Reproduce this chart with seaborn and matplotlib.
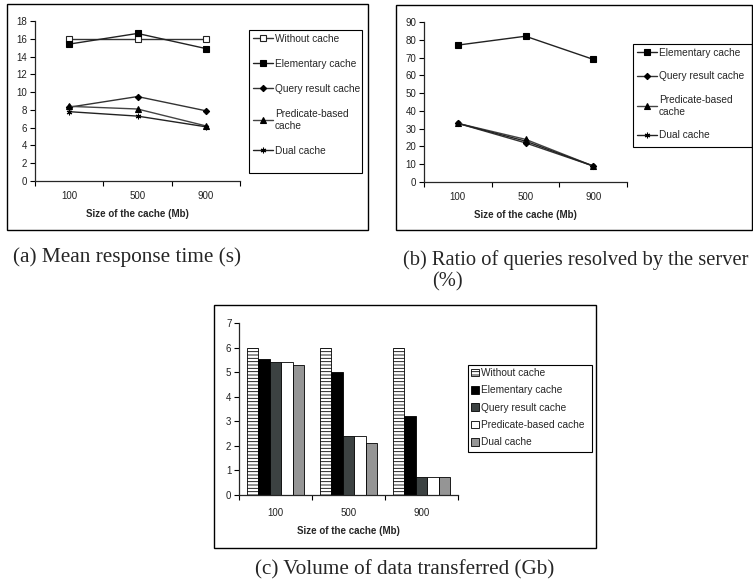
import matplotlib
matplotlib.use("Agg")
import matplotlib.pyplot as plt
import seaborn as sns
import pandas as pd
from matplotlib.patches import Rectangle, Patch
from matplotlib.ticker import FixedLocator, MultipleLocator

# ---------------- data ----------------
cache_sizes = ["100", "500", "900"]

# (a) Mean response time (s)
resp_without = [16.0, 16.0, 16.0]
resp_elementary = [15.4, 16.6, 14.9]
resp_query = [8.3, 9.5, 7.9]
resp_predicate = [8.4, 8.1, 6.2]
resp_dual = [7.8, 7.3, 6.1]

# (b) Ratio of queries resolved by the server (%)
ratio_elementary = [77, 82, 69]
ratio_query = [33, 22, 9]
ratio_predicate = [33, 24, 9]
ratio_dual = [33, 23, 9]

# (c) Volume of data transferred (Gb)
vol_without = [6.0, 6.0, 6.0]
vol_elementary = [5.55, 5.0, 3.2]
vol_query = [5.4, 2.4, 0.75]
vol_predicate = [5.4, 2.4, 0.75]
vol_dual = [5.3, 2.1, 0.75]

series_names = ["Without cache", "Elementary cache", "Query result cache",
                "Predicate-based cache", "Dual cache"]
legend_names_lines = ["Without cache", "Elementary cache", "Query result cache",
                      "Predicate-based\ncache", "Dual cache"]
x_label = "Size of the cache (Mb)"
captions = ["(a) Mean response time (s)",
            "(b) Ratio of queries resolved by the server",
            "(%)",
            "(c) Volume of data transferred (Gb)"]

# ---------------- style ----------------
sns.set_style("ticks")
plt.rcParams["font.family"] = ["Liberation Sans", "DejaVu Sans"]
plt.rcParams["hatch.linewidth"] = 0.6
plt.rcParams["axes.linewidth"] = 0.9

W, H = 753, 582
fig = plt.figure(figsize=(W / 100, H / 100), dpi=100)


def fx(px):
    return px / W


def fy(py):
    return 1 - py / H


def axes_px(x0, x1, ytop, ybot):
    return fig.add_axes([fx(x0), fy(ybot), (x1 - x0) / W, (ybot - ytop) / H])


def panel_box(x0, y0, x1, y1):
    fig.add_artist(Rectangle((fx(x0), fy(y1)), (x1 - x0) / W, (y1 - y0) / H,
                             transform=fig.transFigure, fill=False,
                             edgecolor="black", lw=1.0))


def style_axis(ax, ymax, ystep, xpad, labelpad):
    sns.despine(ax=ax)
    ax.set_xlim(-0.5, 2.5)
    ax.set_ylim(0, ymax)
    ax.yaxis.set_major_locator(MultipleLocator(ystep))
    ax.xaxis.set_major_locator(FixedLocator([0, 1, 2]))
    ax.set_xticklabels(cache_sizes)
    ax.xaxis.set_minor_locator(FixedLocator([-0.5, 0.5, 1.5, 2.5]))
    ax.tick_params(axis="x", which="major", length=0, pad=xpad,
                   labelsize=7, labelcolor="#222222")
    ax.tick_params(axis="x", which="minor", length=3.5, width=0.8,
                   direction="out", color="black")
    ax.tick_params(axis="y", length=3.5, width=0.8, pad=2,
                   labelsize=7, labelcolor="#222222", color="black")
    ax.set_xlabel(x_label, fontsize=7, fontweight="bold", labelpad=labelpad)
    ax.set_ylabel("")
    ax.grid(False)
    ax.set_facecolor("white")


line_styles = {
    "Without cache": dict(marker="s", mfc="white", mec="#222222", color="#333333"),
    "Elementary cache": dict(marker="s", mfc="black", mec="black", color="#222222"),
    "Query result cache": dict(marker="D", mfc="black", mec="black", color="#333333"),
    "Predicate-based cache": dict(marker="^", mfc="black", mec="black", color="#444444"),
    "Dual cache": dict(marker=(6, 2, 0), mfc="black", mec="black", color="#222222"),
}


def draw_lines(ax, data):
    for name, vals in data:
        st = line_styles[name]
        ms = 4.0 if st["marker"] != "D" else 3.2
        sns.lineplot(x=cache_sizes, y=vals, ax=ax, color=st["color"],
                     marker=st["marker"], markersize=ms,
                     markerfacecolor=st["mfc"], markeredgecolor=st["mec"],
                     markeredgewidth=0.8, linewidth=1.0, label=name, sort=False)
    if ax.get_legend() is not None:
        ax.get_legend().remove()
    return ax.get_lines()[-len(data):]


# ---------------- panel (a) ----------------
panel_box(7, 4, 368, 230)
ax_a = axes_px(35, 240, 21, 181)
data_a = [("Without cache", resp_without), ("Elementary cache", resp_elementary),
          ("Query result cache", resp_query), ("Predicate-based cache", resp_predicate),
          ("Dual cache", resp_dual)]
h_a = draw_lines(ax_a, data_a)
style_axis(ax_a, 18, 2, xpad=7, labelpad=6)
fig.add_artist(Rectangle((fx(249), fy(173)), 113 / W, 143 / H,
                         transform=fig.transFigure, fill=False,
                         edgecolor="black", lw=0.8))
fig.legend(h_a, legend_names_lines, loc="upper left",
           bbox_to_anchor=(fx(250), fy(31)), bbox_transform=fig.transFigure,
           frameon=False, fontsize=7.3, labelspacing=1.5, handlelength=2.0,
           handletextpad=0.2, borderpad=0.25, borderaxespad=0)

# ---------------- panel (b) ----------------
panel_box(396, 5, 752, 230)
ax_b = axes_px(424, 627, 22, 182)
data_b = [("Elementary cache", ratio_elementary), ("Query result cache", ratio_query),
          ("Predicate-based cache", ratio_predicate), ("Dual cache", ratio_dual)]
h_b = draw_lines(ax_b, data_b)
style_axis(ax_b, 90, 10, xpad=7, labelpad=6)
fig.add_artist(Rectangle((fx(633), fy(147)), 119 / W, 103 / H,
                         transform=fig.transFigure, fill=False,
                         edgecolor="black", lw=0.8))
fig.legend(h_b, legend_names_lines[1:], loc="upper left",
           bbox_to_anchor=(fx(634), fy(45)), bbox_transform=fig.transFigure,
           frameon=False, fontsize=7.3, labelspacing=1.35, handlelength=2.0,
           handletextpad=0.2, borderpad=0.25, borderaxespad=0)

# ---------------- panel (c) ----------------
panel_box(214, 305, 596, 548)
ax_c = axes_px(239, 458, 323, 495)
vol_series = [vol_without, vol_elementary, vol_query, vol_predicate, vol_dual]
df_c = pd.DataFrame({
    "size": [s for _ in series_names for s in cache_sizes],
    "series": [n for n in series_names for _ in cache_sizes],
    "value": [v for vals in vol_series for v in vals],
})
bar_colors = ["white", "black", "#3c4242", "white", "#959595"]
bar_hatches = ["-----", "", "", "", ""]
sns.barplot(data=df_c, x="size", y="value", hue="series", order=cache_sizes,
            hue_order=series_names, palette=bar_colors, saturation=1,
            width=0.78, gap=0, errorbar=None, edgecolor="black", linewidth=0.6,
            legend=False, ax=ax_c)
for cont, hatch in zip(ax_c.containers, bar_hatches):
    for p in cont.patches:
        p.set_hatch(hatch)
style_axis(ax_c, 7, 1, xpad=9, labelpad=6)
fig.add_artist(Rectangle((fx(468), fy(452)), 124 / W, 87 / H,
                         transform=fig.transFigure, fill=False,
                         edgecolor="black", lw=0.8))
h_c = [Patch(facecolor=c, edgecolor="black", hatch=h, linewidth=0.6)
       for c, h in zip(bar_colors, bar_hatches)]
fig.legend(h_c, series_names, loc="upper left",
           bbox_to_anchor=(fx(469), fy(366)), bbox_transform=fig.transFigure,
           frameon=False, fontsize=7.3, labelspacing=0.72, handlelength=0.8,
           handleheight=0.8, handletextpad=0.2, borderpad=0.2, borderaxespad=0)

# ---------------- captions ----------------
serif = ["Liberation Serif", "DejaVu Serif"]
fig.text(fx(13), fy(257), captions[0], family=serif, fontsize=15.3,
         ha="left", va="center")
fig.text(fx(403), fy(260), captions[1], family=serif, fontsize=14.8,
         ha="left", va="center")
fig.text(fx(432), fy(282), captions[2], family=serif, fontsize=14.8,
         ha="left", va="center")
fig.text(fx(405), fy(570), captions[3], family=serif, fontsize=15.2,
         ha="center", va="center")

fig.savefig("out.png", dpi=100, facecolor="white")
